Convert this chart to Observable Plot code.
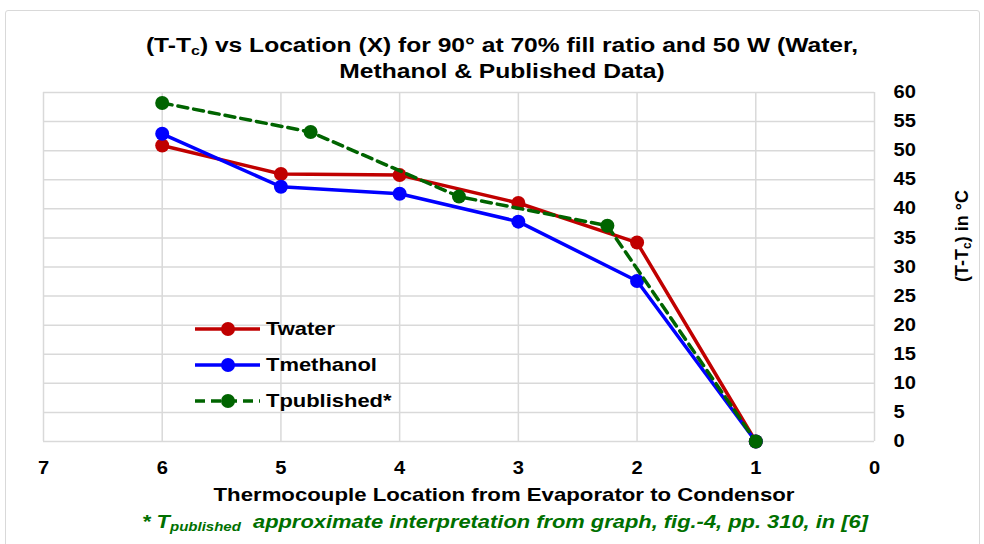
<!DOCTYPE html>
<html>
<head>
<meta charset="utf-8">
<script src="https://cdn.jsdelivr.net/npm/d3@7"></script>
<script src="https://cdn.jsdelivr.net/npm/@observablehq/plot@0.6"></script>
<style>
  html, body { margin: 0; padding: 0; background: #fff; }
  #wrap { position: relative; width: 984px; height: 544px; overflow: hidden; font-family: "Liberation Sans", Arial, sans-serif; }
  #frame { position: absolute; left: 5px; top: 10px; width: 975px; height: 560px; border: 1.5px solid #d9d9d9; border-radius: 3px; box-sizing: border-box; }
  .txt { position: absolute; font-weight: bold; color: #000; white-space: nowrap; }
  .txt sub { line-height: 0; vertical-align: -0.25em; }
  #title { left: 2px; width: 1000px; top: 32px; text-align: center; font-size: 20px; line-height: 26px; transform: scaleX(1.23); }
  #xlabel { left: 4px; width: 1000px; top: 484px; text-align: center; font-size: 18.5px; line-height: 22px; transform: scaleX(1.2); }
  #caption { left: 5px; width: 1000px; top: 511px; text-align: center; font-size: 17.5px; line-height: 22px; color: #007000; font-style: italic; transform: scaleX(1.25); }
  #ylabel { left: 962px; top: 236px; font-size: 18px; transform: translate(-50%, -50%) rotate(-90deg); }
  #legend { position: absolute; left: 190px; top: 312px; }
  #plot { position: absolute; left: 0; top: 0; }
</style>
</head>
<body>
<div id="wrap">
  <div id="frame"></div>
  <div id="plot"></div>
  <div class="txt" id="title">(T-T<sub style="font-size:13px">c</sub>) vs Location (X) for 90° at 70% fill ratio and 50 W (Water,<br>Methanol &amp; Published Data)</div>
  <div class="txt" id="xlabel">Thermocouple Location from Evaporator to Condensor</div>
  <div class="txt" id="caption">* T<sub style="font-size:12px">published</sub>&nbsp; approximate interpretation from graph, fig.-4, pp. 310, in [6]</div>
  <div class="txt" id="ylabel">(T-T<sub style="font-size:12px">c</sub>) in °C</div>
  <div id="legend"></div>
</div>
<script>
// ---- data ----
const xLoc = [6, 5, 4, 3, 2, 1];
const tWater = [50.9, 46.0, 45.8, 41.0, 34.2, 0];
const tMethanol = [52.9, 43.8, 42.6, 37.8, 27.6, 0];
const xPublished = [6, 4.75, 3.5, 2.25, 1];
const tPublished = [58.2, 53.2, 42.1, 37.1, 0];
const xTicks = [7, 6, 5, 4, 3, 2, 1, 0];
const yTicks = [0, 5, 10, 15, 20, 25, 30, 35, 40, 45, 50, 55, 60];
const seriesNames = ["Twater", "Tmethanol", "Tpublished*"];
const seriesColors = ["#c00000", "#0000ff", "#006400"];

const water = xLoc.map((x, i) => ({x, y: tWater[i]}));
const methanol = xLoc.map((x, i) => ({x, y: tMethanol[i]}));
const published = xPublished.map((x, i) => ({x, y: tPublished[i]}));

const chart = Plot.plot({
  width: 984,
  height: 544,
  marginLeft: 43,
  marginRight: 110,
  marginTop: 92,
  marginBottom: 103,
  style: {fontFamily: "'Liberation Sans', Arial, sans-serif", fontWeight: "bold", fontSize: "17.5px", color: "#000", background: "transparent"},
  x: {domain: [7, 0], ticks: xTicks, label: null},
  y: {domain: [0, 60], ticks: yTicks, label: null},
  marks: [
    Plot.gridX(xTicks, {stroke: "#d9d9d9", strokeOpacity: 1, strokeWidth: 1.5}),
    Plot.gridY(yTicks, {stroke: "#d9d9d9", strokeOpacity: 1, strokeWidth: 1.5}),
    Plot.axisX(xTicks, {anchor: "bottom", tickSize: 0, tickPadding: 20, fontSize: 17.5, fontWeight: "bold", label: null, tickFormat: d => String(d)}),
    Plot.axisY(yTicks, {anchor: "right", tickSize: 0, tickPadding: 19, fontSize: 17.5, fontWeight: "bold", label: null, tickFormat: d => String(d)}),
    Plot.line(water, {x: "x", y: "y", stroke: seriesColors[0], strokeWidth: 3.5}),
    Plot.dot(water, {x: "x", y: "y", r: 7, fill: seriesColors[0]}),
    Plot.line(methanol, {x: "x", y: "y", stroke: seriesColors[1], strokeWidth: 3.5}),
    Plot.dot(methanol, {x: "x", y: "y", r: 7, fill: seriesColors[1]}),
    Plot.line(published, {x: "x", y: "y", stroke: seriesColors[2], strokeWidth: 3.5, strokeDasharray: "10,6"}),
    Plot.dot(published, {x: "x", y: "y", r: 7, fill: seriesColors[2]})
  ]
});
document.getElementById("plot").appendChild(chart);

// widen tick labels slightly to match the reference's lettering
d3.select(chart).selectAll('g[aria-label$="tick label"] text').each(function() {
  const t = this.getAttribute("transform");
  if (t) {
    this.setAttribute("transform", t + " scale(1.15,1)");
  } else {
    const x = +this.getAttribute("x") || 0, y = +this.getAttribute("y") || 0;
    this.setAttribute("transform", `translate(${x},${y}) scale(1.15,1) translate(${-x},${-y})`);
  }
});

// ---- legend ----
const lg = d3.select("#legend").append("svg").attr("width", 300).attr("height", 110);
seriesNames.forEach((name, i) => {
  const cy = 17 + i * 36;
  lg.append("line").attr("x1", 5).attr("x2", 70).attr("y1", cy).attr("y2", cy)
    .attr("stroke", seriesColors[i]).attr("stroke-width", 3.5)
    .attr("stroke-dasharray", i === 2 ? "10,6" : null);
  lg.append("circle").attr("cx", 38).attr("cy", cy).attr("r", 7).attr("fill", seriesColors[i]);
  lg.append("text").attr("transform", `translate(76,${cy}) scale(1.22,1)`).attr("dy", "0.35em")
    .attr("font-family", "'Liberation Sans', Arial, sans-serif").attr("font-weight", "bold")
    .attr("font-size", 18).text(name);
});
</script>
</body>
</html>
